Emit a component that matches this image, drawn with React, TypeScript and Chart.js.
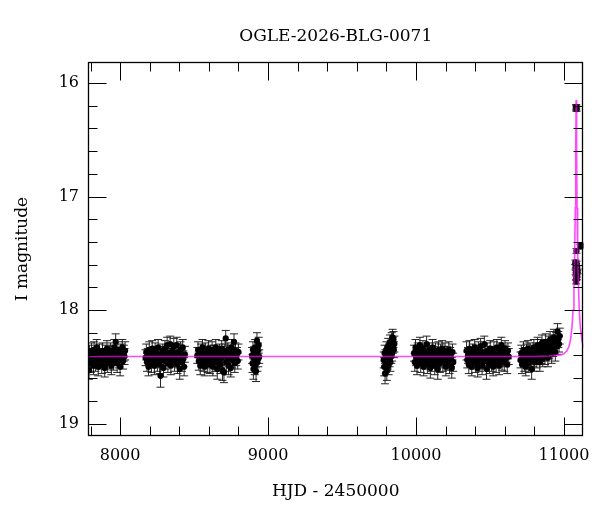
import React, { useEffect, useRef } from "react";
import { Chart, registerables } from "chart.js";

Chart.register(...registerables);

const FONT = "'DejaVu Serif', 'Liberation Serif', serif";
const TITLE = "OGLE-2026-BLG-0071";
const X_LABEL = "HJD - 2450000";
const Y_LABEL = "I magnitude";

const X_MIN = 7783;
const X_MAX = 11132;
const Y_MIN = 15.815;
const Y_MAX = 19.11;
const X_MAJOR = [8000, 9000, 10000, 11000];
const X_MINOR_STEP = 200;
const Y_MAJOR = [16, 17, 18, 19];
const Y_MINOR_STEP = 0.2;

type Obs = [number, number, number]; // HJD-2450000, I mag, error

const season1: Obs[] = [
  [7786,18.44,.07],[7790,18.53,.08],[7794,18.38,.07],[7798,18.41,.06],[7803,18.47,.08],[7807,18.36,.07],[7811,18.43,.07],[7815,18.40,.06],
  [7820,18.49,.08],[7824,18.35,.07],[7829,18.42,.07],[7833,18.46,.08],[7838,18.39,.06],[7842,18.33,.07],[7847,18.44,.07],[7852,18.50,.08],
  [7856,18.41,.06],[7861,18.37,.07],[7866,18.45,.07],[7871,18.42,.06],[7876,18.48,.08],[7881,18.36,.07],[7886,18.43,.07],[7891,18.40,.06],
  [7896,18.51,.08],[7901,18.38,.07],[7906,18.44,.07],[7911,18.34,.07],[7916,18.47,.08],[7921,18.41,.06],[7926,18.39,.07],[7931,18.45,.07],
  [7936,18.36,.07],[7941,18.49,.08],[7946,18.42,.06],[7951,18.38,.07],[7956,18.46,.07],[7961,18.33,.07],[7966,18.43,.06],[7970,18.28,.07],
  [7975,18.40,.07],[7980,18.47,.08],[7985,18.35,.07],[7990,18.44,.07],[7995,18.39,.06],[8000,18.50,.08],[8005,18.37,.07],[8010,18.42,.06],
  [8015,18.33,.07],[8020,18.45,.07],[8025,18.38,.07],[8030,18.41,.07],[8034,18.36,.08],
];

const season2: Obs[] = [
  [8172,18.42,.07],[8177,18.37,.07],[8182,18.46,.08],[8187,18.40,.06],[8192,18.50,.08],[8197,18.35,.07],[8202,18.43,.07],[8207,18.39,.06],
  [8212,18.47,.08],[8217,18.34,.07],[8222,18.44,.07],[8227,18.41,.06],[8232,18.49,.08],[8237,18.36,.07],[8242,18.43,.07],[8247,18.38,.06],
  [8252,18.46,.08],[8257,18.33,.07],[8262,18.41,.07],[8267,18.48,.08],[8273,18.58,.10],[8278,18.39,.07],[8283,18.44,.07],[8288,18.36,.06],
  [8293,18.51,.08],[8298,18.42,.07],[8303,18.34,.07],[8308,18.45,.07],[8313,18.40,.06],[8318,18.31,.07],[8323,18.47,.08],[8328,18.38,.07],
  [8333,18.43,.06],[8338,18.30,.07],[8343,18.49,.08],[8348,18.41,.07],[8353,18.36,.07],[8358,18.44,.06],[8363,18.32,.07],[8368,18.46,.08],
  [8373,18.39,.07],[8378,18.42,.06],[8383,18.31,.07],[8388,18.48,.08],[8393,18.37,.07],[8398,18.44,.07],[8403,18.52,.09],[8408,18.35,.07],
  [8413,18.41,.06],[8418,18.46,.08],[8423,18.33,.07],[8428,18.43,.07],[8433,18.50,.08],[8438,18.39,.07],
];

const season3: Obs[] = [
  [8522,18.40,.07],[8527,18.35,.07],[8532,18.45,.08],[8537,18.41,.06],[8542,18.49,.08],[8547,18.37,.07],[8552,18.43,.07],[8557,18.33,.07],
  [8562,18.46,.08],[8567,18.40,.06],[8572,18.50,.08],[8577,18.36,.07],[8582,18.44,.07],[8587,18.39,.06],[8592,18.47,.08],[8597,18.34,.07],
  [8602,18.42,.07],[8607,18.48,.08],[8612,18.38,.07],[8617,18.44,.06],[8622,18.35,.07],[8627,18.50,.08],[8632,18.41,.07],[8637,18.37,.06],
  [8642,18.46,.08],[8647,18.33,.07],[8652,18.43,.07],[8657,18.52,.09],[8662,18.39,.07],[8667,18.45,.07],[8672,18.36,.06],[8677,18.48,.08],
  [8682,18.42,.07],[8687,18.34,.07],[8692,18.53,.09],[8697,18.40,.06],[8702,18.55,.09],[8707,18.37,.07],[8714,18.25,.07],[8718,18.46,.08],
  [8723,18.41,.07],[8728,18.35,.06],[8733,18.49,.08],[8738,18.43,.07],[8743,18.38,.07],[8748,18.51,.08],[8753,18.33,.07],[8758,18.44,.07],
  [8763,18.40,.06],[8770,18.28,.07],[8775,18.47,.08],[8780,18.36,.07],[8785,18.42,.07],[8790,18.39,.06],[8795,18.45,.07],[8800,18.37,.07],
];

const season4: Obs[] = [
  [8892,18.40,.07],[8895,18.47,.08],[8898,18.35,.07],[8901,18.52,.09],[8904,18.42,.07],[8907,18.38,.06],[8910,18.49,.08],[8913,18.33,.07],
  [8916,18.44,.07],[8919,18.54,.09],[8922,18.40,.07],[8925,18.27,.07],[8928,18.46,.08],[8931,18.36,.07],[8934,18.43,.07],[8937,18.31,.07],
  [8940,18.41,.06],
];

const season5: Obs[] = [
  [9782,18.44,.07],[9785,18.50,.08],[9788,18.38,.07],[9791,18.56,.09],[9794,18.42,.07],[9797,18.47,.08],[9800,18.35,.07],[9803,18.53,.09],
  [9806,18.40,.06],[9809,18.45,.07],[9812,18.32,.07],[9815,18.49,.08],[9818,18.37,.07],[9821,18.43,.07],[9824,18.29,.07],[9827,18.46,.08],
  [9830,18.34,.07],[9833,18.41,.06],[9836,18.27,.07],[9839,18.38,.07],[9842,18.24,.07],[9845,18.31,.07],[9848,18.26,.07],[9851,18.35,.07],
  [9854,18.30,.07],
];

const season6: Obs[] = [
  [9987,18.38,.07],[9992,18.46,.08],[9997,18.33,.07],[10002,18.42,.07],[10007,18.49,.08],[10012,18.36,.07],[10017,18.44,.07],[10022,18.40,.06],
  [10027,18.31,.07],[10032,18.47,.08],[10037,18.38,.07],[10042,18.43,.06],[10047,18.34,.07],[10052,18.50,.08],[10057,18.41,.07],[10062,18.37,.06],
  [10067,18.45,.07],[10072,18.30,.07],[10077,18.48,.08],[10082,18.39,.07],[10087,18.43,.07],[10092,18.35,.06],[10097,18.51,.09],[10102,18.40,.07],
  [10107,18.46,.08],[10112,18.33,.07],[10117,18.42,.07],[10122,18.38,.06],[10127,18.49,.08],[10132,18.36,.07],[10137,18.44,.07],[10142,18.40,.06],
  [10147,18.52,.09],[10152,18.35,.07],[10157,18.43,.07],[10162,18.47,.08],[10167,18.37,.07],[10172,18.41,.06],[10177,18.34,.07],[10182,18.46,.08],
  [10187,18.39,.07],[10192,18.44,.07],[10197,18.36,.07],[10202,18.50,.08],[10207,18.42,.07],[10212,18.38,.06],[10217,18.45,.08],[10222,18.35,.07],
  [10227,18.48,.08],[10232,18.40,.07],[10237,18.43,.07],[10242,18.51,.09],[10247,18.37,.07],[10252,18.46,.08],
];

const season7: Obs[] = [
  [10342,18.36,.08],[10347,18.44,.07],[10352,18.40,.07],[10357,18.48,.08],[10362,18.34,.07],[10367,18.43,.07],[10372,18.39,.06],[10377,18.50,.08],
  [10382,18.37,.07],[10387,18.45,.07],[10392,18.41,.06],[10397,18.33,.07],[10402,18.47,.08],[10407,18.38,.07],[10412,18.44,.07],[10417,18.51,.08],
  [10422,18.35,.07],[10427,18.42,.06],[10432,18.46,.08],[10437,18.32,.07],[10442,18.40,.07],[10447,18.49,.08],[10452,18.37,.07],[10457,18.43,.06],
  [10462,18.30,.07],[10467,18.45,.07],[10472,18.39,.07],[10477,18.52,.09],[10482,18.36,.07],[10487,18.44,.07],[10492,18.41,.06],[10497,18.48,.08],
  [10502,18.34,.07],[10507,18.42,.07],[10512,18.46,.08],[10517,18.38,.06],[10522,18.50,.08],[10527,18.35,.07],[10532,18.43,.07],[10537,18.40,.06],
  [10542,18.47,.08],[10547,18.33,.07],[10552,18.44,.07],[10557,18.39,.06],[10562,18.49,.08],[10567,18.36,.07],[10572,18.42,.07],[10577,18.31,.07],
  [10582,18.45,.08],[10587,18.40,.07],[10592,18.37,.06],[10597,18.46,.08],[10602,18.34,.07],[10607,18.43,.07],[10612,18.39,.07],[10617,18.48,.08],
  [10622,18.36,.07],[10627,18.41,.07],
];

const season8: Obs[] = [
  [10707,18.44,.07],[10712,18.38,.07],[10717,18.48,.08],[10722,18.40,.06],[10727,18.35,.07],[10732,18.46,.08],[10737,18.42,.07],[10742,18.50,.08],
  [10747,18.37,.07],[10752,18.44,.07],[10757,18.34,.07],[10762,18.47,.08],[10767,18.40,.06],[10772,18.36,.07],[10777,18.45,.07],[10782,18.52,.09],
  [10787,18.38,.07],[10792,18.43,.07],[10797,18.33,.07],[10802,18.46,.08],[10807,18.39,.07],[10812,18.35,.06],[10817,18.44,.07],[10822,18.31,.07],
  [10827,18.41,.07],[10832,18.37,.06],[10837,18.46,.08],[10842,18.33,.07],[10847,18.40,.07],[10852,18.29,.07],[10857,18.43,.07],[10862,18.36,.07],
  [10867,18.32,.06],[10872,18.41,.07],[10877,18.28,.07],[10882,18.38,.07],[10887,18.34,.06],[10892,18.42,.08],[10897,18.30,.07],[10902,18.36,.07],
  [10907,18.26,.07],[10912,18.33,.06],[10917,18.39,.08],[10922,18.29,.07],[10927,18.34,.07],[10932,18.24,.07],[10937,18.31,.07],[10942,18.37,.08],
  [10947,18.27,.07],[10952,18.32,.07],[10957,18.19,.07],[10962,18.26,.07],[10967,18.30,.07],[10972,18.23,.07],
];

const peakSeason: Obs[] = [
  [11083,16.21,.02],[11085,16.23,.02],[11084,16.22,.02],
  [11085,17.48,.02],[11112,17.44,.02],[11116,17.43,.02],
  [11078,17.58,.02],[11082,17.61,.02],[11086,17.59,.02],[11090,17.63,.02],[11080,17.67,.02],[11088,17.69,.02],
  [11084,17.72,.02],[11092,17.66,.02],[11083,17.75,.02],[11087,17.71,.02],[11079,17.62,.02],
];

// model light curve
const MODEL_T = [7783, 10800, 10900, 10950, 10980, 11000, 11020, 11035, 11045, 11055, 11062, 11068, 11073, 11077, 11080, 11083,
  11086, 11089, 11093, 11098, 11104, 11111, 11121, 11132];
const MODEL_MAG = [18.41, 18.41, 18.405, 18.40, 18.395, 18.385, 18.36, 18.32, 18.26, 18.15, 18.0, 17.78, 17.5, 17.1, 16.6, 16.15,
  16.6, 17.1, 17.5, 17.78, 18.0, 18.15, 18.26, 18.33];

const errorBarPlugin = {
  id: "errorBars",
  beforeDatasetsDraw(chart: any) {
    const { ctx, chartArea: a, scales } = chart;
    const x = scales.x, y = scales.y;
    const ds = chart.data.datasets[1];
    ctx.save();
    ctx.beginPath();
    ctx.rect(a.left, a.top, a.right - a.left, a.bottom - a.top);
    ctx.clip();
    ctx.strokeStyle = "rgba(25,25,25,0.95)";
    ctx.lineWidth = 1;
    for (const p of ds.data) {
      const px = x.getPixelForValue(p.x);
      const y1 = y.getPixelForValue(p.y - p.e);
      const y2 = y.getPixelForValue(p.y + p.e);
      ctx.beginPath();
      ctx.moveTo(px, y1);
      ctx.lineTo(px, y2);
      ctx.moveTo(px - 4, y1);
      ctx.lineTo(px + 4, y1);
      ctx.moveTo(px - 4, y2);
      ctx.lineTo(px + 4, y2);
      ctx.stroke();
    }
    ctx.restore();
  },
};

const framePlugin = {
  id: "frameTicks",
  afterDraw(chart: any) {
    const { ctx, chartArea: a, scales } = chart;
    const x = scales.x, y = scales.y;
    ctx.save();
    ctx.strokeStyle = "#000";
    ctx.lineWidth = 1;
    const line = (x1: number, y1: number, x2: number, y2: number) => {
      ctx.beginPath();
      ctx.moveTo(x1, y1);
      ctx.lineTo(x2, y2);
      ctx.stroke();
    };
    const L = Math.round(a.left) + 0.5, R = Math.round(a.right) - 0.5;
    const T = Math.round(a.top) + 0.5, B = Math.round(a.bottom) - 0.5;
    ctx.lineWidth = 1.3;
    ctx.strokeRect(L, T, R - L, B - T);
    ctx.lineWidth = 1;
    const i0 = Math.ceil(X_MIN / X_MINOR_STEP), i1 = Math.floor(X_MAX / X_MINOR_STEP);
    for (let i = i0; i <= i1; i++) {
      const v = i * X_MINOR_STEP;
      const len = X_MAJOR.includes(v) ? 18 : 9;
      const px = Math.round(x.getPixelForValue(v)) + 0.5;
      line(px, B, px, B - len);
      line(px, T, px, T + len);
    }
    const j0 = Math.ceil(Y_MIN / Y_MINOR_STEP - 1e-6), j1 = Math.floor(Y_MAX / Y_MINOR_STEP + 1e-6);
    for (let j = j0; j <= j1; j++) {
      const v = j * Y_MINOR_STEP;
      const major = Y_MAJOR.some((m) => Math.abs(m - v) < 1e-6);
      const len = major ? 18 : 9;
      const py = Math.round(y.getPixelForValue(v)) + 0.5;
      line(L, py, L + len, py);
      line(R, py, R - len, py);
    }
    ctx.restore();
  },
};

export default function App() {
  const ref = useRef<HTMLCanvasElement>(null);
  useEffect(() => {
    const canvas = ref.current;
    if (!canvas) return;
    const all = [...season1, ...season2, ...season3, ...season4, ...season5, ...season6, ...season7, ...season8, ...peakSeason];
    const obs = all.map(([t, m, e]) => ({ x: t, y: m, e }));
    const model = MODEL_T.map((t, i) => ({ x: t, y: MODEL_MAG[i] }));
    const chart = new Chart(canvas, {
      type: "scatter",
      data: {
        datasets: [
          {
            label: "model",
            data: model,
            showLine: true,
            pointRadius: 0,
            borderColor: "rgba(255,0,255,0.72)",
            borderWidth: 1.6,
            tension: 0,
            order: 0,
          } as any,
          {
            label: "OGLE I",
            data: obs,
            pointRadius: 3.1,
            pointBackgroundColor: "#000",
            pointBorderWidth: 0,
            order: 1,
          } as any,
        ],
      },
      options: {
        responsive: false,
        animation: false,
        devicePixelRatio: 1,
        layout: { padding: { left: 0, right: 13, top: 0, bottom: 0 } },
        plugins: {
          legend: { display: false },
          tooltip: { enabled: false },
          title: {
            display: true,
            text: TITLE,
            color: "#000",
            fullSize: false,
            font: { family: FONT, size: 17, weight: "normal" },
            padding: { top: 26, bottom: 15.6 },
          },
        },
        scales: {
          x: {
            type: "linear",
            position: "bottom",
            min: X_MIN,
            max: X_MAX,
            afterBuildTicks: (s: any) => {
              s.ticks = X_MAJOR.map((v) => ({ value: v }));
            },
            afterFit: (s: any) => {
              s.height = 76;
            },
            grid: { display: false, drawTicks: false },
            border: { display: false },
            ticks: {
              color: "#000",
              font: { family: FONT, size: 16 },
              padding: 10,
              maxRotation: 0,
              autoSkip: false,
              callback: (v: any) => String(v),
            },
            title: {
              display: true,
              text: X_LABEL,
              color: "#000",
              font: { family: FONT, size: 17 },
              padding: { top: 0, bottom: 10 },
            },
          },
          y: {
            type: "linear",
            reverse: true,
            min: Y_MIN,
            max: Y_MAX,
            afterBuildTicks: (s: any) => {
              s.ticks = Y_MAJOR.map((v) => ({ value: v }));
            },
            afterFit: (s: any) => {
              s.width = 88;
            },
            grid: { display: false, drawTicks: false },
            border: { display: false },
            ticks: {
              color: "#000",
              font: { family: FONT, size: 16 },
              padding: 9,
              autoSkip: false,
              callback: (v: any) => String(v),
            },
            title: {
              display: true,
              text: Y_LABEL,
              color: "#000",
              font: { family: FONT, size: 17 },
              padding: { top: 12, bottom: 0 },
            },
          },
        },
      } as any,
      plugins: [errorBarPlugin, framePlugin],
    });
    return () => chart.destroy();
  }, []);
  return (
    <div style={{ position: "absolute", left: 0, top: 0, width: 600, height: 512, background: "#fff" }}>
      <canvas ref={ref} width={600} height={512} style={{ display: "block" }} />
    </div>
  );
}
